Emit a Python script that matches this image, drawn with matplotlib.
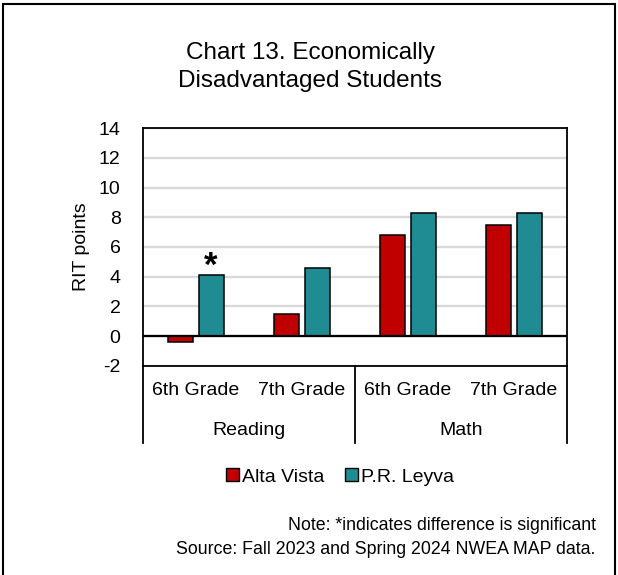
import matplotlib
matplotlib.use("Agg")
import matplotlib.pyplot as plt
from matplotlib.patches import Patch, Rectangle
from matplotlib.lines import Line2D
import numpy as np

plt.rcParams['font.family'] = ['Liberation Sans', 'DejaVu Sans']

# data
grades = ["6th Grade", "7th Grade", "6th Grade", "7th Grade"]
subjects = ["Reading", "Math"]
alta_vista = [-0.4, 1.5, 6.8, 7.5]
pr_leyva = [4.1, 4.6, 8.3, 8.3]
significant = [True, False, False, False]
yticks = list(range(-2, 16, 2))

red = "#C00000"
teal = "#1F8B92"

fig = plt.figure(figsize=(6.18, 5.75), dpi=100)
ax = fig.add_axes([0.231, 0.364, 0.686, 0.413])

x = np.arange(len(grades))
w = 0.235
off = 0.145
ax.bar(x - off, alta_vista, w, color=red, edgecolor="black", linewidth=1.1, zorder=3)
ax.bar(x + off, pr_leyva, w, color=teal, edgecolor="black", linewidth=1.1, zorder=3)

# significance markers
for i, s in enumerate(significant):
    if s:
        ax.text(x[i] + off, pr_leyva[i] - 0.05, "*", ha="center", va="baseline",
                fontsize=25, fontweight="bold")

ax.set_xlim(-0.5, 3.5)
ax.set_ylim(-2, 14)
ax.set_yticks(yticks)
ax.set_yticklabels([str(t) for t in yticks], fontsize=14)
ax.tick_params(axis="y", length=0, pad=16)
ax.set_xticks([])
ax.yaxis.grid(True, color="#D9D9D9", linewidth=1.7, zorder=0)
ax.axhline(0, color="black", linewidth=1.6, zorder=4)
for sp in ax.spines.values():
    sp.set_linewidth(1.3)
    sp.set_color("black")
ax.set_ylabel("RIT points", fontsize=14, labelpad=6)

# multi-level category axis
tr = ax.get_xaxis_transform()
for i, g in enumerate(grades):
    ax.text(x[i], -0.105, g, transform=tr, ha="center", va="center", fontsize=14)
for j, s in enumerate(subjects):
    ax.text(2 * j + 0.5, -0.271, s, transform=tr, ha="center", va="center", fontsize=14)
for xb in [-0.5, 1.5, 3.5]:
    ax.add_line(Line2D([xb, xb], [0, -0.326], transform=tr, color="black",
                       linewidth=1.3, clip_on=False))

# legend
handles = [Patch(facecolor=red, edgecolor="black", label="Alta Vista"),
           Patch(facecolor=teal, edgecolor="black", label="P.R. Leyva")]
fig.legend(handles=handles, loc="center", bbox_to_anchor=(0.55, 1 - 477 / 575),
           ncol=2, frameon=False, fontsize=14, handlelength=0.65, handleheight=0.65,
           handletextpad=0.15, columnspacing=1.1)

# title
fig.text(0.502, 1 - 67 / 575, "Chart 13. Economically\nDisadvantaged Students",
         ha="center", va="center", fontsize=17.5, linespacing=1.32)

# notes
fig.text(0.964, 1 - 526 / 575, "Note: *indicates difference is significant",
         ha="right", va="center", fontsize=12.8)
fig.text(0.964, 1 - 549 / 575, "Source: Fall 2023 and Spring 2024 NWEA MAP data.",
         ha="right", va="center", fontsize=12.8)

# outer border
fig.add_artist(Rectangle((3 / 618, -0.05), 612 / 618, 1.05 - 4 / 575,
                         transform=fig.transFigure, fill=False,
                         edgecolor="black", linewidth=1.5))

fig.savefig("out.png", dpi=100, facecolor="white")
